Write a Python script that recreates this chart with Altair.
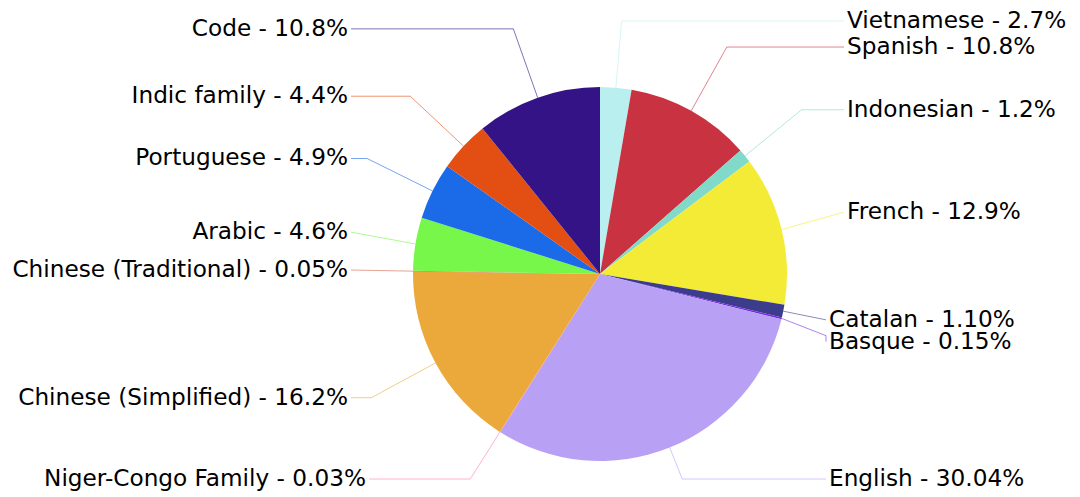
import math
import altair as alt
import pandas as pd

# ---------------- data ----------------
languages = ["Vietnamese", "Spanish", "Indonesian", "French", "Catalan", "Basque",
             "English", "Niger-Congo Family", "Chinese (Simplified)",
             "Chinese (Traditional)", "Arabic", "Portuguese", "Indic family", "Code"]
shares = [2.7, 10.8, 1.2, 12.9, 1.10, 0.15, 30.04, 0.03, 16.2, 0.05, 4.6, 4.9, 4.4, 10.8]
share_text = ["2.7", "10.8", "1.2", "12.9", "1.10", "0.15", "30.04", "0.03", "16.2",
              "0.05", "4.6", "4.9", "4.4", "10.8"]
colors = ["#b9f0ef", "#c93341", "#80d9c9", "#f3eb36", "#3b3d8c", "#7a2be2",
          "#b8a0f4", "#ff7eb0", "#eba93b", "#d4654a", "#77f74a", "#1b6be8",
          "#e34e13", "#341387"]

# ---------------- layout ----------------
OFF = 8                 # page margin
W, H = 1064, 486        # chart size
CX, CY = 600, 274       # pie centre (page px)
R = 187                 # pie radius
R_ELBOW = 260           # leader elbow radius
LABEL_DX_R = 247        # right label distance from centre
LABEL_DX_L = 252        # left label distance from centre
INSET = 18              # inset of displaced labels
Y_MIN, Y_MAX = 21, 479  # label bounds
GAP = 22                # min label spacing
FONT = "DejaVu Sans"
FSIZE = 23.2

total = sum(shares)
cum = 0.0
info = []
for i, (lang, v) in enumerate(zip(languages, shares)):
    a = (cum + v / 2) / total * 2 * math.pi
    cum += v
    raw = CY - R_ELBOW * math.cos(a)
    info.append(dict(i=i, a=a, side="right" if math.sin(a) >= 0 else "left",
                     raw=raw, y=min(max(raw, Y_MIN), Y_MAX)))

for side in ("right", "left"):
    items = sorted([d for d in info if d["side"] == side], key=lambda d: d["y"])
    for _ in range(200):
        for p, q in zip(items, items[1:]):
            d = q["y"] - p["y"]
            if d < GAP:
                s = (GAP - d) / 2
                p["y"] -= s
                q["y"] += s
        for d in items:
            d["y"] = min(max(d["y"], Y_MIN), Y_MAX)

label_rows, line_rows = [], []
for d in info:
    a, y = d["a"], d["y"]
    sgn = 1 if d["side"] == "right" else -1
    moved = abs(y - max(d["raw"], Y_MIN)) > 3.5
    dx = LABEL_DX_R if sgn > 0 else LABEL_DX_L
    lx = CX + sgn * (dx - (INSET if moved else 0))
    end_x = lx - sgn * 3
    x0, y0 = CX + R * math.sin(a), CY - R * math.cos(a)
    c = -math.cos(a)
    r = (y - CY) / c if abs(c) > 1e-6 else R_ELBOW
    r = min(max(r, R), R_ELBOW)
    ex, ey = CX + r * math.sin(a), CY - r * math.cos(a)
    if sgn * (ex - end_x) > 0:
        ex = end_x
    lang = languages[d["i"]]
    for k, (px, py) in enumerate([(x0, y0), (ex, ey), (end_x, y)]):
        line_rows.append(dict(lang=lang, k=k, px=px, py=py))
    label_rows.append(dict(lang=lang, px=lx, py=y, side=d["side"],
                           text=f"{lang} - {share_text[d['i']]}%"))

pie_df = pd.DataFrame({"lang": languages, "share": shares, "idx": list(range(len(languages)))})
lines_df = pd.DataFrame(line_rows)
labels_df = pd.DataFrame(label_rows)

xs = alt.Scale(domain=[OFF, OFF + W], nice=False, zero=False)
ys = alt.Scale(domain=[OFF, OFF + H], nice=False, zero=False, reverse=True)
cscale = alt.Scale(domain=languages, range=colors)

pie = alt.Chart(pie_df).mark_arc(outerRadius=R).encode(
    theta=alt.Theta("share:Q", stack=True),
    order=alt.Order("idx:Q"),
    color=alt.Color("lang:N", scale=cscale, legend=None),
    x=alt.value(CX - OFF),
    y=alt.value(CY - OFF),
)

leaders = alt.Chart(lines_df).mark_line(strokeWidth=1, opacity=0.6).encode(
    x=alt.X("px:Q", scale=xs, axis=None),
    y=alt.Y("py:Q", scale=ys, axis=None),
    detail="lang:N",
    order="k:Q",
    color=alt.Color("lang:N", scale=cscale, legend=None),
)

right_labels = alt.Chart(labels_df).transform_filter(alt.datum.side == "right").mark_text(
    align="left", baseline="middle", font=FONT, fontSize=FSIZE, color="#000000"
).encode(x=alt.X("px:Q", scale=xs, axis=None), y=alt.Y("py:Q", scale=ys, axis=None), text="text:N")

left_labels = alt.Chart(labels_df).transform_filter(alt.datum.side == "left").mark_text(
    align="right", baseline="middle", font=FONT, fontSize=FSIZE, color="#000000"
).encode(x=alt.X("px:Q", scale=xs, axis=None), y=alt.Y("py:Q", scale=ys, axis=None), text="text:N")

chart = alt.layer(leaders, pie, right_labels, left_labels).properties(
    width=W, height=H, padding=0, autosize=alt.AutoSizeParams(type="none")
).configure_view(stroke=None)

chart.save("out.html", embed_options={"renderer": "svg", "actions": False})
